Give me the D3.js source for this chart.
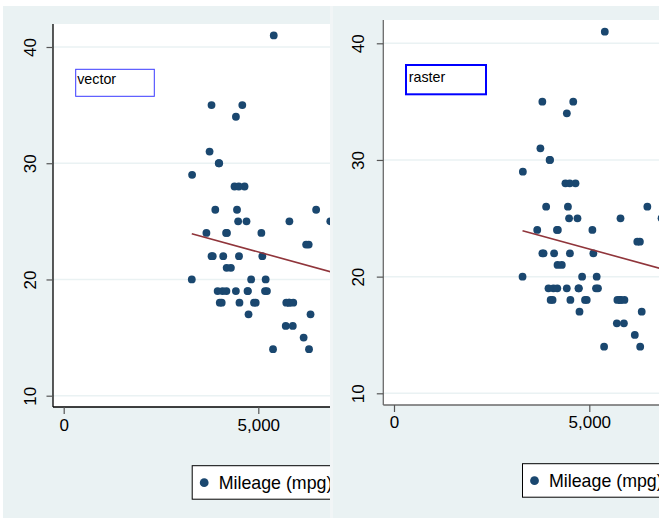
<!DOCTYPE html>
<html>
<head>
<meta charset="utf-8">
<script src="https://cdn.jsdelivr.net/npm/d3@7/dist/d3.min.js"></script>
<style>
  html, body { margin: 0; padding: 0; background: #ffffff; }
  svg { display: block; }
  text { font-family: "Liberation Sans", Arial, sans-serif; }
</style>
</head>
<body>
<svg id="chart" width="659" height="521"></svg>
<script>
// 1978 automobile data: price (USD) and mileage (mpg)
const price = [4099, 4749, 3799, 4816, 7827, 5788, 4453, 5189, 10372, 4082,
  11385, 14500, 15906, 3299, 5705, 4504, 5104, 3667, 3955, 3984,
  4010, 5886, 6342, 4389, 4187, 11497, 13594, 13466, 3829, 5379,
  6165, 4516, 6303, 3291, 8814, 5172, 4733, 4890, 4181, 4195,
  10371, 4647, 4425, 4482, 6486, 4060, 5798, 4934, 5222, 4723,
  4424, 4172, 9690, 6295, 9735, 6229, 4589, 5079, 8129, 4296,
  5799, 4499, 3995, 12990, 3895, 3798, 5899, 3748, 5719, 7140,
  5397, 4697, 6850, 11995];
const mpg = [22, 17, 22, 20, 15, 18, 26, 20, 16, 19,
  14, 14, 21, 29, 16, 22, 22, 24, 19, 30,
  18, 16, 17, 28, 21, 12, 12, 14, 22, 14,
  15, 18, 14, 20, 21, 19, 19, 18, 19, 24,
  16, 28, 34, 25, 26, 18, 18, 18, 19, 19,
  19, 24, 17, 23, 25, 23, 35, 24, 21, 21,
  25, 28, 30, 14, 26, 35, 18, 31, 18, 23,
  41, 25, 25, 17];

const xTicks = [0, 5000, 10000, 15000];
const yTicks = [10, 20, 30, 40];
const seriesLabel = "Mileage (mpg)";
const panelLabels = ["vector", "raster"];

const C = {
  bg: "#eaf2f3",
  grid: "#eaf2f3",
  dot: "#1a476f",
  fit: "#90353b"
};

// least-squares fit of mpg on price, drawn over the observed price range
const n = price.length;
const mx = d3.mean(price), my = d3.mean(mpg);
let sxy = 0, sxx = 0;
for (let i = 0; i < n; i++) {
  sxy += (price[i] - mx) * (mpg[i] - my);
  sxx += (price[i] - mx) * (price[i] - mx);
}
const slope = sxy / sxx;
const intercept = my - slope * mx;
const fitX = d3.extent(price);
const fitPts = fitX.map(x => [x, intercept + slope * x]);

const pts = price.map((p, i) => ({ p, m: mpg[i] }));

const svg = d3.select("#chart");
const defs = svg.append("defs");

function drawPanel(cfg, label) {
  // each panel is shown only up to its visible right edge
  const panelClip = "panel-" + label;
  defs.append("clipPath").attr("id", panelClip)
    .append("rect")
    .attr("x", 0).attr("y", 0)
    .attr("width", cfg.visibleR).attr("height", 521);

  const g = svg.append("g").attr("clip-path", `url(#${panelClip})`);

  // outer graph region
  g.append("rect")
    .attr("x", cfg.bgX).attr("y", cfg.bgY)
    .attr("width", cfg.bgW).attr("height", cfg.bgH)
    .attr("fill", C.bg);
  if (cfg.edge) {
    g.append("rect")
      .attr("x", cfg.bgX).attr("y", cfg.bgY)
      .attr("width", 3).attr("height", cfg.bgH)
      .attr("fill", "#f1f5f6");
  }

  const x = d3.scaleLinear().domain([0, 5000]).range([cfg.x0, cfg.x5000]);
  const y = d3.scaleLinear().domain([10, 40]).range([cfg.y10, cfg.y40]);

  // plot region
  g.append("rect")
    .attr("x", cfg.plotL).attr("y", cfg.plotT)
    .attr("width", cfg.plotR - cfg.plotL).attr("height", cfg.plotB - cfg.plotT)
    .attr("fill", "#ffffff");

  const clipId = "clip-" + label;
  defs.append("clipPath").attr("id", clipId)
    .append("rect")
    .attr("x", cfg.plotL).attr("y", cfg.plotT - 10)
    .attr("width", cfg.plotR - cfg.plotL).attr("height", cfg.plotB - cfg.plotT + 10);

  const inner = g.append("g").attr("clip-path", `url(#${clipId})`);

  // horizontal grid lines
  inner.selectAll("line.grid").data(yTicks).join("line")
    .attr("class", "grid")
    .attr("x1", cfg.plotL).attr("x2", cfg.plotR)
    .attr("y1", d => y(d)).attr("y2", d => y(d))
    .attr("stroke", C.grid).attr("stroke-width", 1.5);

  // scatter
  inner.selectAll("circle.pt").data(pts).join("circle")
    .attr("class", "pt")
    .attr("cx", d => x(d.p)).attr("cy", d => y(d.m))
    .attr("r", 3.9)
    .attr("fill", C.dot);

  // linear fit
  inner.append("path")
    .datum(fitPts)
    .attr("d", d3.line().x(d => x(d[0])).y(d => y(d[1])))
    .attr("fill", "none")
    .attr("stroke", C.fit)
    .attr("stroke-width", 1.6);

  // y axis
  const yAxis = d3.axisLeft(y).tickValues(yTicks).tickSize(6.5).tickPadding(0).tickFormat(d3.format("d"));
  const ya = g.append("g").attr("transform", `translate(${cfg.plotL},0)`).call(yAxis);
  ya.select(".domain").attr("d", `M0,${cfg.plotT}V${cfg.plotB}`)
    .attr("stroke", cfg.axisColor).attr("stroke-width", 1.3);
  ya.selectAll(".tick line").attr("stroke", "#555").attr("stroke-width", 1.2);
  ya.selectAll(".tick text")
    .attr("font-size", 17).attr("fill", "#000")
    .attr("text-anchor", "middle").attr("dy", null)
    .attr("x", null)
    .attr("transform", `translate(${cfg.yLabX - cfg.plotL},0) rotate(-90)`);

  // x axis: only the ticks that fall inside the visible part of the panel
  const shownX = xTicks.filter(v => x(v) + 25 < cfg.visibleR);
  const xAxis = d3.axisBottom(x).tickValues(shownX).tickSize(7).tickPadding(0).tickFormat(d3.format(","));
  const xa = g.append("g").attr("transform", `translate(0,${cfg.plotB})`).call(xAxis);
  xa.select(".domain").attr("d", `M${cfg.plotL},0H${cfg.plotR}`)
    .attr("stroke", cfg.axisColor).attr("stroke-width", 1.3);
  xa.selectAll(".tick line").attr("stroke", "#555").attr("stroke-width", 1.2);
  xa.selectAll(".tick text")
    .attr("font-size", 17).attr("fill", "#000")
    .attr("dy", null)
    .attr("y", cfg.xLabBase - cfg.plotB);

  // boxed annotation
  const bx = x(0) + 12, by = y(40) + cfg.boxDy;
  g.append("rect")
    .attr("x", bx).attr("y", by)
    .attr("width", cfg.boxW).attr("height", cfg.boxH)
    .attr("fill", "#ffffff")
    .attr("stroke", cfg.boxStroke).attr("stroke-width", cfg.boxSW);
  g.append("text")
    .attr("x", bx + cfg.boxTx).attr("y", by + cfg.boxTy)
    .attr("font-size", 14.3).attr("fill", "#000")
    .text(label);

  // legend
  const lx = x(0) + 128.5, ly = cfg.plotB + 58.7;
  g.append("rect")
    .attr("x", lx).attr("y", ly)
    .attr("width", 200).attr("height", 33.5)
    .attr("fill", "#ffffff").attr("stroke", "#000").attr("stroke-width", 1);
  g.append("circle")
    .attr("cx", lx + 12).attr("cy", ly + 17)
    .attr("r", 4.4).attr("fill", C.dot);
  g.append("text")
    .attr("x", lx + 26.5).attr("y", ly + 23.3)
    .attr("font-size", 17.8).attr("fill", "#000")
    .text(seriesLabel);
}

drawPanel({
  visibleR: 330,
  bgX: 3, bgY: 6, bgW: 340, bgH: 512, edge: false,
  x0: 63.7, x5000: 258.3, y10: 395.7, y40: 47,
  plotL: 53, plotT: 24, plotR: 345, plotB: 407,
  yLabX: 36, xLabBase: 431, axisColor: "#000",
  boxDy: 22.3, boxW: 78.6, boxH: 27, boxStroke: "#3a3aff", boxSW: 1,
  boxTx: 1.5, boxTy: 14.8
}, panelLabels[0]);

drawPanel({
  visibleR: 659,
  bgX: 330, bgY: 6, bgW: 340, bgH: 512, edge: true,
  x0: 394, x5000: 589.3, y10: 393.3, y40: 43.3,
  plotL: 383.3, plotT: 20, plotR: 670, plotB: 405,
  yLabX: 364.3, xLabBase: 428.3, axisColor: "#6a6a6a",
  boxDy: 21.7, boxW: 80, boxH: 29.3, boxStroke: "#0000ff", boxSW: 2,
  boxTx: 2.7, boxTy: 16.7
}, panelLabels[1]);
</script>
</body>
</html>
